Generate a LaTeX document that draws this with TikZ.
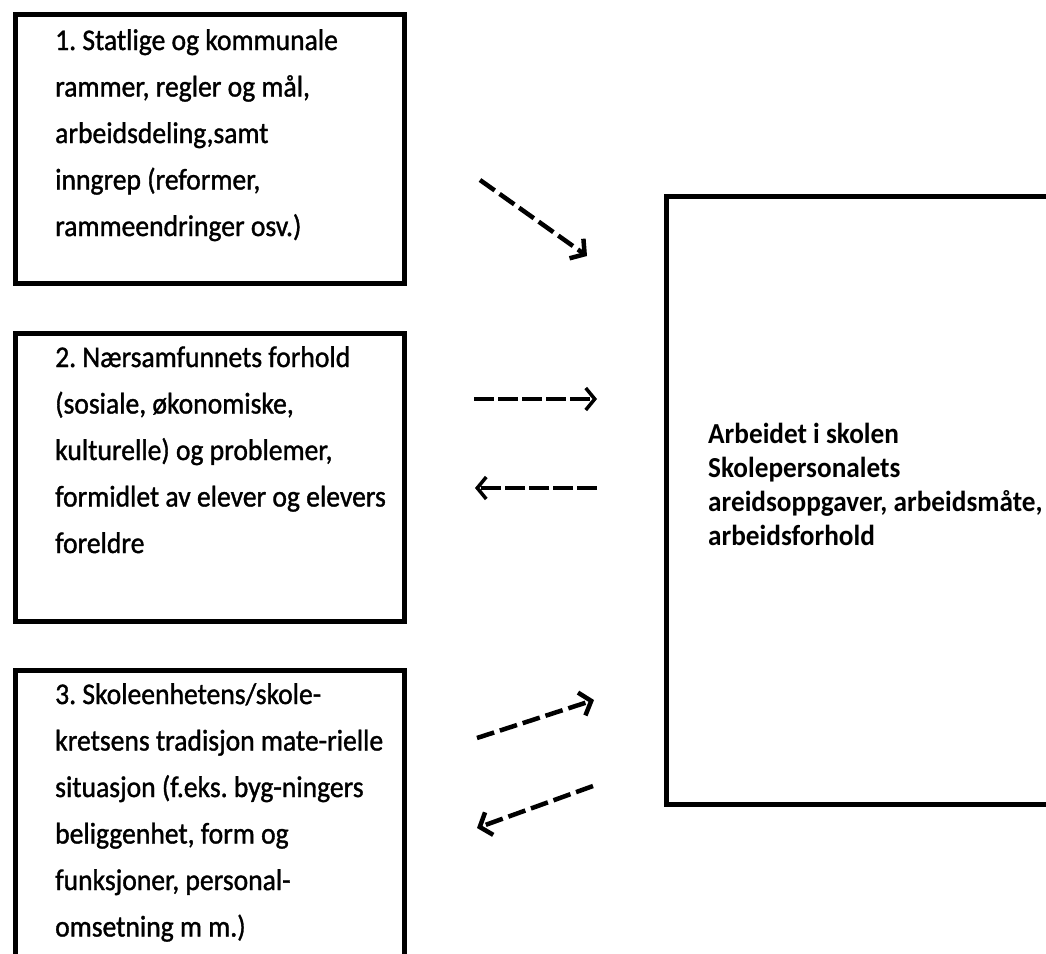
\documentclass[tikz,border=0pt]{standalone}
\usepackage{fontspec}
\setmainfont{Carlito}
\newfontfamily\leftfont[FakeStretch=0.92,FakeBold=1.2]{Carlito}
\newfontfamily\rightfont[FakeStretch=0.94]{Carlito}
\usetikzlibrary{arrows.meta}
\frenchspacing
\begin{document}
\begin{tikzpicture}[x=1pt,y=-1pt,
  box/.style={draw=black, line width=4.5pt, inner sep=0pt, anchor=north west, minimum width=389pt},
  lefttext/.style={anchor=north west, inner sep=0pt, align=left, font=\leftfont\fontsize{30}{46.5}\selectfont},
  righttext/.style={anchor=north west, inner sep=0pt, align=left, font=\rightfont\bfseries\fontsize{29}{34}\selectfont},
  dashhoriz/.style={line width=3.5pt, dash pattern=on 20pt off 4pt, -{Straight Barb[length=9pt,width=22pt,line width=3.5pt]}},
  dashdiag/.style={line width=4.5pt, dash pattern=on 18pt off 6pt, -{Straight Barb[length=10pt,width=24pt,line width=4.5pt]}}
]
\useasboundingbox (0,0) rectangle (1046,953);
\clip (0,0) rectangle (1046,953);

\node[box, minimum height=269pt] (b1) at (13,12) {};
\node[box, minimum height=288pt] (b2) at (13,331) {};
\node[box, minimum height=330pt] (b3) at (13,668) {};
\node[box, minimum width=420pt, minimum height=608pt] (bR) at (664,194) {};

\node[lefttext] (t1) at (55,29) {1. Statlige og kommunale\\rammer, regler og mål,\\arbeidsdeling,samt\\inngrep (reformer,\\rammeendringer osv.)};
\node[lefttext] (t2) at (55,346) {2. Nærsamfunnets forhold\\(sosiale, økonomiske,\\kulturelle) og problemer,\\formidlet av elever og elevers\\foreldre};
\node[lefttext] (t3) at (55,683) {3. Skoleenhetens/skole-\\kretsens tradisjon mate-rielle\\situasjon (f.eks. byg-ningers\\beliggenhet, form og\\funksjoner, personal-\\omsetning m m.)};
\node[righttext] (tR) at (708,423) {Arbeidet i skolen\\Skolepersonalets\\areidsoppgaver, arbeidsmåte,\\arbeidsforhold};

\coordinate (a1s) at (480,180);
\coordinate (a1e) at (587,256);
\coordinate (a2s) at (474,399);
\coordinate (a2e) at (597,399);
\coordinate (a3s) at (597,488);
\coordinate (a3e) at (475,488);
\coordinate (a4s) at (477,738);
\coordinate (a4e) at (594,700);
\coordinate (a5s) at (593,786);
\coordinate (a5e) at (477,828);

\draw[dashdiag] (a1s) -- (a1e);
\draw[dashhoriz] (a2s) -- (a2e);
\draw[dashhoriz] (a3s) -- (a3e);
\draw[dashdiag] (a4s) -- (a4e);
\draw[dashdiag] (a5s) -- (a5e);
\end{tikzpicture}
\end{document}
